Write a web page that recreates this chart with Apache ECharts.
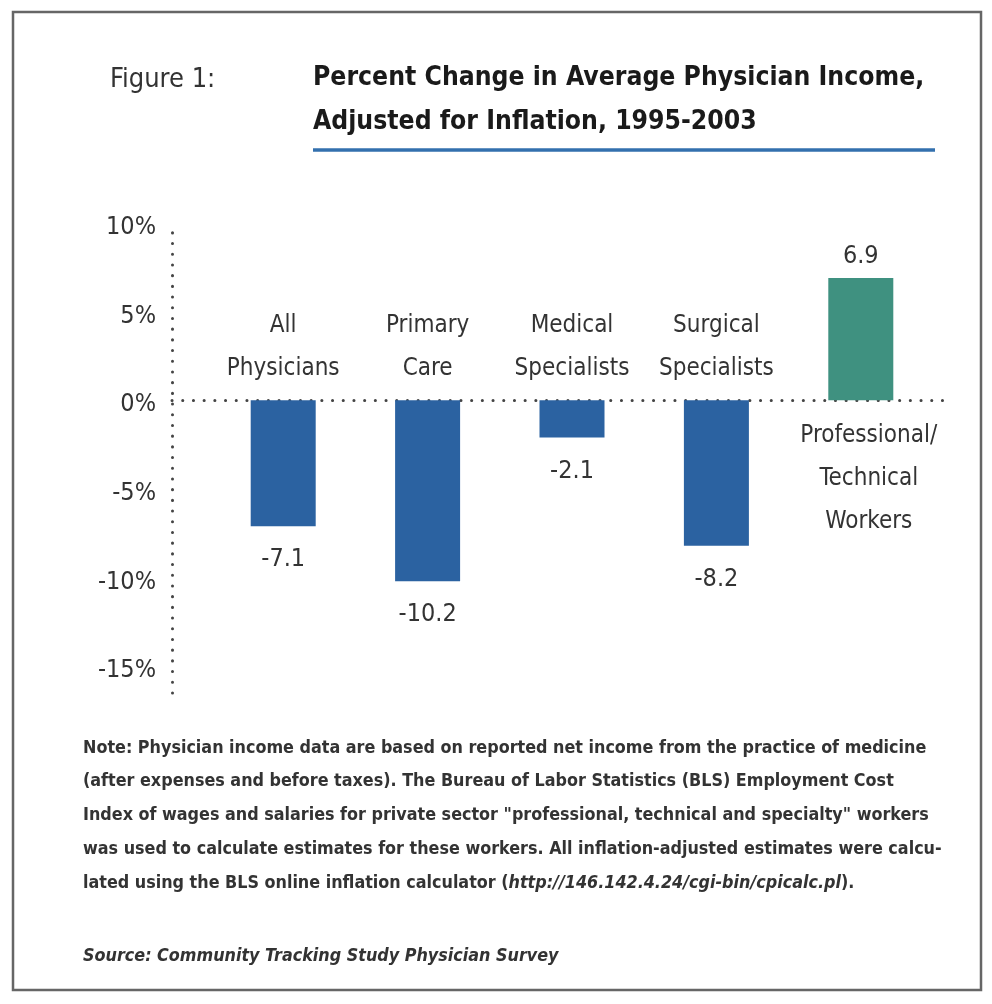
<!DOCTYPE html>
<html>
<head>
<meta charset="utf-8">
<script src="https://cdn.jsdelivr.net/npm/echarts@6/dist/echarts.min.js"></script>
<style>
html,body{margin:0;padding:0;background:#fff;}
#chart{width:992px;height:1004px;}
</style>
</head>
<body>
<div id="chart"></div>
<script>
const categories = ['All\nPhysicians', 'Primary\nCare', 'Medical\nSpecialists', 'Surgical\nSpecialists', 'Professional/\nTechnical\nWorkers'];
const values = [-7.1, -10.2, -2.1, -8.2, 6.9];
const groups = ['physician', 'physician', 'physician', 'physician', 'comparison'];
const yTicks = [-15, -10, -5, 0, 5, 10];
const noteLines = [
  'Note: Physician income data are based on reported net income from the practice of medicine',
  '(after expenses and before taxes). The Bureau of Labor Statistics (BLS) Employment Cost',
  'Index of wages and salaries for private sector "professional, technical and specialty" workers',
  'was used to calculate estimates for these workers. All inflation-adjusted estimates were calcu-',
  'lated using the BLS online inflation calculator ('
];
const noteUrl = 'http://146.142.4.24/cgi-bin/cpicalc.pl';
const noteEnd = ').';
const sourceText = 'Source: Community Tracking Study Physician Survey';

const FONT = "'Liberation Sans Narrow', 'DejaVu Sans Condensed', 'Liberation Sans', sans-serif";
const BLUE = '#2b62a1';
const GREEN = '#3f9180';
const TXT = '#333333';
const NOTE_FS = 17.8;
const dotted = { color: '#444', width: 3, type: [0.1, 10.6], cap: 'round' };

const chart = echarts.init(document.getElementById('chart'));

const noteText = noteLines.slice(0, 4).map(l => '{n|' + l + '}').join('\n') +
  '\n{n|' + noteLines[4] + '}{i|' + noteUrl + '}{n|' + noteEnd + '}';

const option = {
  backgroundColor: '#fff',
  animation: false,
  title: [
    { text: 'Figure 1:', left: 110, top: 66, padding: 0,
      textStyle: { fontFamily: FONT, fontSize: 27, fontWeight: 'normal', color: TXT } },
    { text: 'Percent Change in Average Physician Income,\nAdjusted for Inflation, 1995-2003', left: 313, top: 56, padding: 0,
      textStyle: { fontFamily: FONT, fontSize: 26.3, fontWeight: 'bold', color: '#1a1a1a', lineHeight: 44 } },
    { text: noteText, left: 83, top: 731, padding: 0,
      textStyle: { fontFamily: FONT, fontSize: NOTE_FS, lineHeight: 33.8, color: TXT,
        rich: {
          n: { fontFamily: FONT, fontSize: NOTE_FS, fontWeight: 'bold', color: TXT, lineHeight: 33.8 },
          i: { fontFamily: FONT, fontSize: NOTE_FS, fontWeight: 'bold', fontStyle: 'italic', color: TXT, lineHeight: 33.8 }
        } } },
    { text: sourceText, left: 83, top: 947, padding: 0,
      textStyle: { fontFamily: FONT, fontSize: NOTE_FS, fontWeight: 'bold', fontStyle: 'italic', color: TXT } }
  ],
  graphic: [
    { type: 'rect', shape: { x: 13, y: 12, width: 968, height: 978 },
      style: { fill: 'none', stroke: '#666', lineWidth: 2.5 } },
    { type: 'line', shape: { x1: 313, y1: 150, x2: 935, y2: 150 },
      style: { stroke: '#3370ae', lineWidth: 3.5 } }
  ],
  grid: [
    { left: 211, right: 59, top: 223, bottom: 311 },
    { left: 172, right: 47, top: 223, bottom: 311 }
  ],
  xAxis: [
    { type: 'category', gridIndex: 0, data: categories, show: false },
    { type: 'category', gridIndex: 1, data: [''],
      axisLine: { show: true, onZero: true, lineStyle: dotted },
      axisTick: { show: false }, axisLabel: { show: false }, splitLine: { show: false } }
  ],
  yAxis: [
    { type: 'value', gridIndex: 0, min: -16.5, max: 10, show: false },
    { type: 'value', gridIndex: 1, min: -16.5, max: 10,
      axisLine: { show: true, lineStyle: dotted },
      axisTick: { show: false },
      splitLine: { show: false },
      axisLabel: { customValues: yTicks, formatter: v => '{a|' + v + '%}', margin: 16,
        rich: { a: { fontFamily: FONT, fontSize: 25, color: TXT, padding: [9, 0, 0, 0] } },
        fontFamily: FONT, fontSize: 25, color: TXT } }
  ],
  series: [
    {
      type: 'bar', xAxisIndex: 0, yAxisIndex: 0, barWidth: 65,
      data: values.map((v, i) => ({
        value: v,
        itemStyle: { color: groups[i] === 'comparison' ? GREEN : BLUE },
        label: { show: true, position: v < 0 ? 'bottom' : 'top', distance: v < 0 ? 21 : 9,
          formatter: String(v), fontFamily: FONT, fontSize: 25, color: TXT }
      })),
      z: 3
    },
    {
      type: 'scatter', xAxisIndex: 0, yAxisIndex: 0, symbolSize: 0, silent: true,
      itemStyle: { opacity: 1 },
      data: categories.map((c, i) => ({
        value: [i, 0],
        label: { show: true, position: values[i] < 0 ? 'top' : 'bottom',
          distance: values[i] < 0 ? 10 : 14, offset: values[i] < 0 ? [0, 0] : [8, 0],
          formatter: c, fontFamily: FONT, fontSize: 24, lineHeight: 43, color: TXT, align: 'center' }
      })),
      z: 4
    }
  ]
};
chart.setOption(option);
</script>
</body>
</html>
